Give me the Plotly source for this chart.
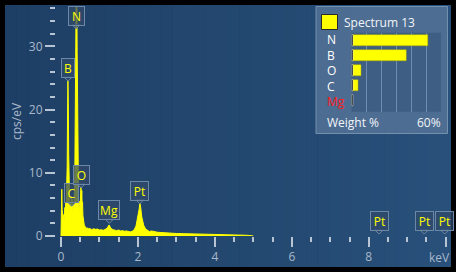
import plotly.graph_objects as go

# ---------------- data ----------------
spec_keV = [0.00, 0.01, 0.02, 0.03, 0.04, 0.05, 0.06, 0.07, 0.08, 0.09,
            0.10, 0.11, 0.12, 0.13, 0.14, 0.15, 0.16, 0.17, 0.18, 0.19,
            0.20, 0.21, 0.22, 0.23, 0.24, 0.25, 0.26, 0.27, 0.28, 0.29,
            0.30, 0.31, 0.32, 0.33, 0.34, 0.35, 0.36, 0.37, 0.38, 0.39,
            0.40, 0.41, 0.42, 0.43, 0.44, 0.45, 0.46, 0.47, 0.48, 0.49,
            0.50, 0.51, 0.52, 0.53, 0.54, 0.55, 0.56, 0.57, 0.58, 0.59,
            0.60, 0.61, 0.62, 0.63, 0.64, 0.65, 0.66, 0.67, 0.68, 0.69,
            0.70, 0.75, 0.80, 0.85, 0.90, 0.95, 1.00, 1.05, 1.10, 1.15,
            1.20, 1.25, 1.30, 1.35, 1.40, 1.45, 1.50, 1.55, 1.60, 1.65,
            1.70, 1.75, 1.80, 1.85, 1.90, 1.95, 2.00, 2.03, 2.05, 2.07,
            2.10, 2.15, 2.20, 2.25, 2.30, 2.35, 2.40, 2.50, 2.60, 2.70,
            2.80, 2.90, 3.00, 3.20, 3.40, 3.60, 3.80, 4.00, 4.20, 4.40,
            4.60, 4.80, 4.95, 5.00]
spec_cps = [0.0, 3.0, 7.4, 4.2, 2.6, 3.8, 2.2, 3.4, 2.4, 3.1,
            4.5, 3.6, 5.2, 4.4, 6.0, 7.5, 11.0, 19.0, 24.6, 21.0,
            13.0, 7.5, 5.0, 3.6, 5.2, 3.4, 5.6, 6.3, 4.6, 5.9,
            3.8, 5.0, 3.2, 4.4, 5.3, 7.0, 10.5, 17.0, 28.0, 39.0,
            43.0, 40.0, 29.0, 17.0, 9.0, 5.2, 3.4, 4.6, 3.0, 5.5,
            4.2, 6.8, 7.8, 5.6, 7.2, 4.8, 5.4, 3.2, 2.6, 2.0,
            1.7, 1.5, 1.6, 1.3, 1.4, 1.2, 1.3, 1.1, 1.2, 1.3,
            1.1, 1.2, 1.0, 1.15, 1.05, 1.1, 0.95, 1.0, 0.9, 1.05,
            1.25, 1.75, 1.2, 1.0, 0.95, 0.85, 0.95, 0.8, 0.85, 0.75,
            0.8, 0.7, 0.65, 0.75, 0.95, 1.6, 2.9, 4.2, 5.2, 4.6,
            3.0, 1.7, 1.1, 0.85, 0.7, 0.8, 0.7, 0.6, 0.55, 0.5,
            0.45, 0.45, 0.4, 0.37, 0.35, 0.33, 0.3, 0.27, 0.22, 0.2,
            0.16, 0.12, 0.06, 0.0]

peak_labels = ["N", "B", "C", "O", "Mg", "Pt", "Pt", "Pt", "Pt"]
peak_keV = [0.392, 0.183, 0.277, 0.525, 1.254, 2.048, 8.268, 9.442, 9.975]
peak_cps = [43.0, 24.5, 4.7, 7.6, 2.0, 5.1, 0.3, 0.3, 0.3]

x_tickvals = [0, 2, 4, 6, 8, 10]
x_ticktext = ["0", "2", "4", "6", "8", ""]
y_tickvals = [0, 10, 20, 30]

elements = ["N", "B", "O", "C", "Mg"]
weights = [51.0, 36.5, 6.0, 4.0, 0.0]
element_colors = ["#ffffff", "#ffffff", "#ffffff", "#ffffff", "#ff1a1a"]
spectrum_name = "Spectrum 13"

# ---------------- layout geometry helpers ----------------
W, H = 456, 272
ML, MR, MT, MB = 56, 7, 6, 36
PW, PH = W - ML - MR, H - MT - MB
YMAX = 36.39
FONT = "Open Sans"


def PX(px):
    return (px - ML) / PW


def PY(py):
    return (H - MB - py) / PH


fig = go.Figure()

fig.add_trace(go.Scatter(
    x=spec_keV, y=spec_cps, mode="lines",
    line=dict(color="#ffff00", width=1),
    fill="tozeroy", fillcolor="#ffff00",
    hoverinfo="skip", showlegend=False, xaxis="x", yaxis="y"))

# inset bar chart
fig.add_trace(go.Bar(
    y=elements, x=weights, orientation="h", width=0.74,
    marker=dict(color="#ffff00", line=dict(color="#a8a800", width=0.5)),
    xaxis="x2", yaxis="y2", showlegend=False, hoverinfo="skip"))
fig.add_trace(go.Bar(
    y=elements, x=[1.0] * len(elements), base=[-0.4] * len(elements),
    orientation="h", width=0.74, marker=dict(color="#111111"),
    xaxis="x2", yaxis="y2", showlegend=False, hoverinfo="skip"))

shapes = []
# gradient background panel
n_bands = 40
x_left, x_right = 5, 451
c0 = (30, 63, 101)
c1 = (40, 80, 122)
for i in range(n_bands):
    t = i / (n_bands - 1)
    col = "rgb(%d,%d,%d)" % tuple(round(a + (b - a) * t) for a, b in zip(c0, c1))
    xa = x_left + (x_right - x_left) * i / n_bands
    xb = x_left + (x_right - x_left) * (i + 1) / n_bands + 0.6
    shapes.append(dict(type="rect", xref="paper", yref="paper",
                       x0=PX(xa), x1=PX(min(xb, x_right)), y0=PY(267), y1=PY(5),
                       fillcolor=col, line=dict(width=0), layer="below"))

# inset panel
shapes.append(dict(type="rect", xref="paper", yref="paper",
                   x0=PX(316), x1=PX(447.5), y0=PY(133.5), y1=PY(6.5),
                   fillcolor="rgba(88,118,154,0.78)",
                   line=dict(color="#7390ae", width=1), layer="below"))
shapes.append(dict(type="rect", xref="paper", yref="paper",
                   x0=PX(351.5), x1=PX(441), y0=PY(111.7), y1=PY(32.7),
                   fillcolor="rgba(45,75,112,0.45)",
                   line=dict(width=0), layer="below"))
# legend swatch
shapes.append(dict(type="rect", xref="paper", yref="paper",
                   x0=PX(321.5), x1=PX(337.5), y0=PY(29.5), y1=PY(14.5),
                   fillcolor="#ffff00", line=dict(color="#2a2a2a", width=1),
                   layer="above"))

annotations = []
label_bg = "rgba(48,74,106,0.72)"
label_border = "#6d88a6"
label_w = {"N": 13, "B": 10, "C": 11, "O": 13, "Mg": 18, "Pt": 15}
for name, e, h in zip(peak_labels, peak_keV, peak_cps):
    yv = min(h, YMAX - 3.6)
    annotations.append(dict(
        x=e, y=yv, xref="x", yref="y", text=name, showarrow=False,
        xanchor="center", yanchor="bottom", yshift=3,
        font=dict(family=FONT, size=12, color="#ffff00"),
        bgcolor=label_bg, bordercolor=label_border, borderwidth=1,
        borderpad=1, width=label_w[name], height=16))
    shapes.append(dict(type="path", xref="x", yref="y",
                       xsizemode="pixel", ysizemode="pixel",
                       xanchor=e, yanchor=yv,
                       path="M -4 4 L 0 0 L 4 4 Z",
                       fillcolor=label_bg,
                       line=dict(color=label_border, width=1), layer="above"))

# axis titles
annotations.append(dict(x=PX(16), y=0.5, xref="paper", yref="paper",
                        text="cps/eV", textangle=-90, showarrow=False,
                        xanchor="center", yanchor="middle",
                        font=dict(family=FONT, size=12, color="#a9b8ca")))
annotations.append(dict(x=PX(439.5), y=PY(257.5), xref="paper", yref="paper",
                        text="keV", showarrow=False,
                        xanchor="center", yanchor="middle",
                        font=dict(family=FONT, size=12, color="#a9b8ca")))

# inset texts
annotations.append(dict(x=PX(342), y=PY(22), xref="paper", yref="paper",
                        text=spectrum_name, showarrow=False,
                        xanchor="left", yanchor="middle",
                        font=dict(family=FONT, size=12, color="#f2f5f9")))
element_text = "<br>".join(
    "<span style='color:%s'>%s</span>" % (c, el) for el, c in zip(elements, element_colors))
annotations.append(dict(x=PX(325), y=elements[len(elements) // 2], xref="paper", yref="y2",
                        text=element_text, showarrow=False, align="left",
                        xanchor="left", yanchor="middle", yshift=0,
                        font=dict(family=FONT, size=12, color="#ffffff")))
annotations.append(dict(x=PX(325), y=PY(122), xref="paper", yref="paper",
                        text="Weight %", showarrow=False,
                        xanchor="left", yanchor="middle",
                        font=dict(family=FONT, size=12, color="#f2f5f9")))
annotations.append(dict(x=PX(443), y=PY(122), xref="paper", yref="paper",
                        text="60%", showarrow=False,
                        xanchor="right", yanchor="middle",
                        font=dict(family=FONT, size=12, color="#f2f5f9")))

tick_col = "#b7c4d3"
lab_col = "#a9b8ca"

fig.update_layout(
    width=W, height=H,
    margin=dict(l=ML, r=MR, t=MT, b=MB, pad=0),
    paper_bgcolor="#000000", plot_bgcolor="rgba(0,0,0,0)",
    barmode="overlay", showlegend=False,
    shapes=shapes, annotations=annotations,
    font=dict(family=FONT, size=12, color=lab_col),
    xaxis=dict(domain=[0, 1], range=[-0.13, 10.086], anchor="y",
               showgrid=False, zeroline=False, showline=False,
               tickmode="array", tickvals=x_tickvals, ticktext=x_ticktext,
               ticks="outside", ticklen=10, tickwidth=2, tickcolor=tick_col,
               tickfont=dict(family=FONT, size=12, color=lab_col),
               minor=dict(tickmode="linear", tick0=0, dtick=0.5, ticks="outside",
                          ticklen=5, tickwidth=2, tickcolor=tick_col,
                          showgrid=False),
               fixedrange=True),
    yaxis=dict(domain=[0, 1], range=[0, YMAX], anchor="x",
               showgrid=False, zeroline=False, showline=False,
               tickmode="array", tickvals=y_tickvals,
               ticks="outside", ticklen=10, tickwidth=2, tickcolor=tick_col,
               tickfont=dict(family=FONT, size=12, color=lab_col),
               minor=dict(tickmode="linear", tick0=0, dtick=2, ticks="outside",
                          ticklen=5, tickwidth=2, tickcolor=tick_col,
                          showgrid=False),
               fixedrange=True),
    xaxis2=dict(domain=[PX(351.5), PX(441)], range=[-0.4, 59.9], anchor="y2",
                showgrid=True, gridcolor="rgba(130,156,188,0.75)", gridwidth=1,
                tickmode="linear", tick0=0, dtick=10,
                showticklabels=False, ticks="", zeroline=False, showline=False,
                fixedrange=True),
    yaxis2=dict(domain=[PY(111.7), PY(32.7)], anchor="x2", type="category",
                categoryorder="array", categoryarray=elements,
                autorange="reversed", showticklabels=False, ticks="",
                showgrid=False, zeroline=False, showline=False,
                fixedrange=True),
)

fig.write_html("out.html")
